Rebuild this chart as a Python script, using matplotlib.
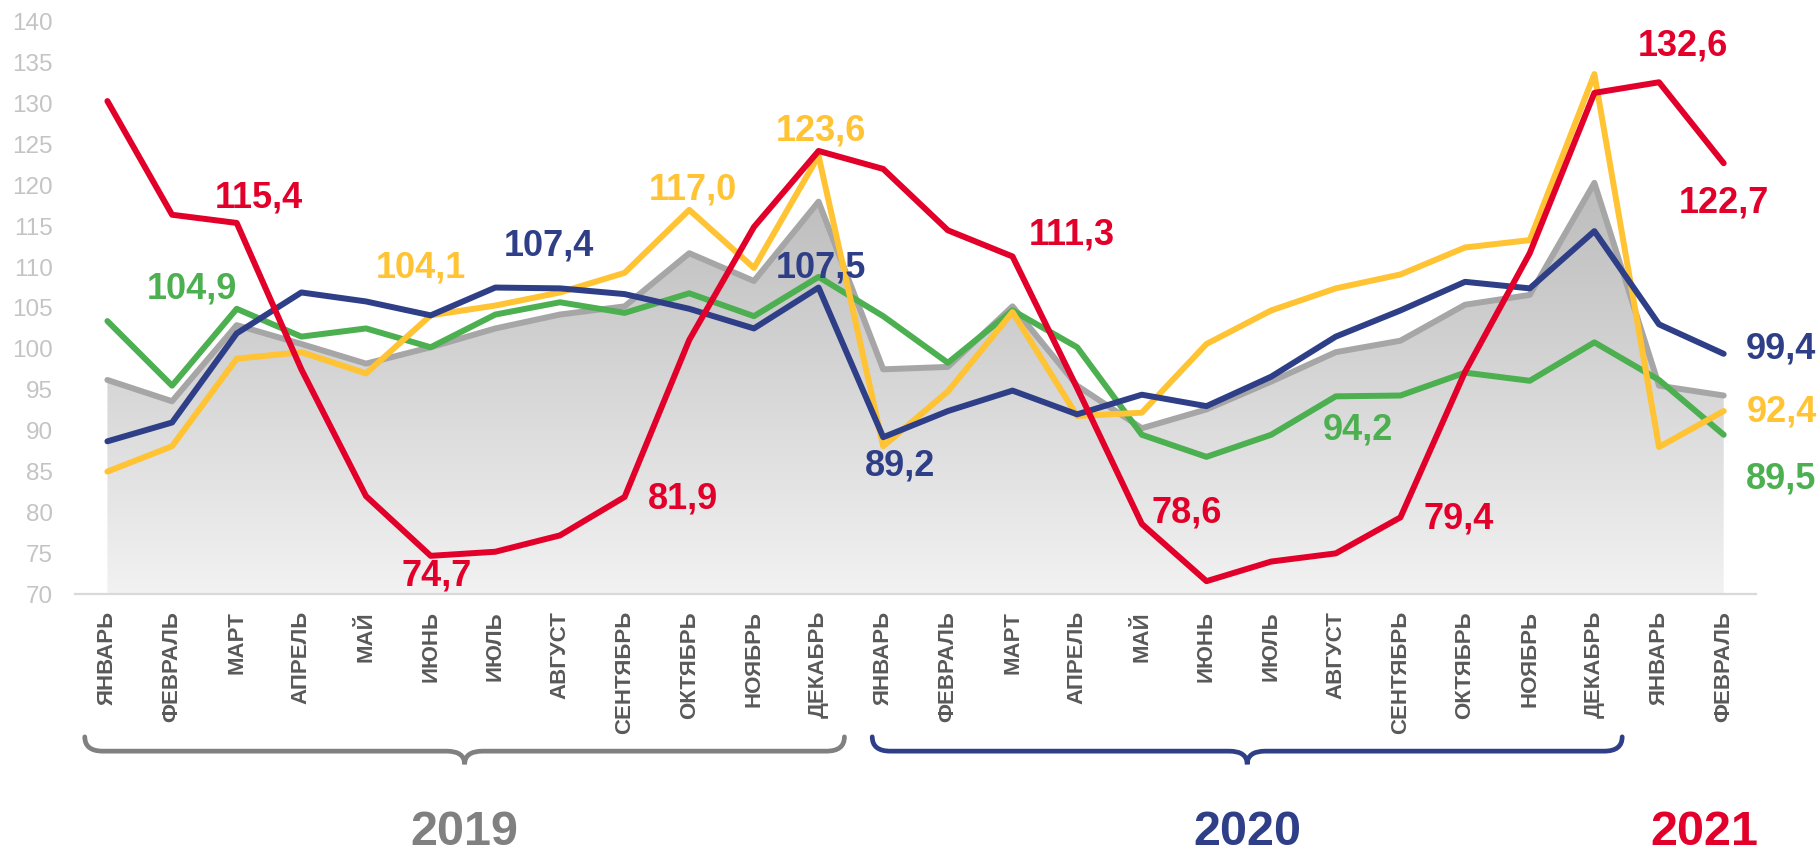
import numpy as np
import matplotlib
matplotlib.use("Agg")
import matplotlib.pyplot as plt
from matplotlib.colors import LinearSegmentedColormap
from matplotlib.path import Path
from matplotlib.patches import PathPatch
from matplotlib.transforms import blended_transform_factory

plt.rcParams["font.family"] = ["Liberation Sans", "DejaVu Sans"]

months = ["ЯНВАРЬ", "ФЕВРАЛЬ", "МАРТ", "АПРЕЛЬ", "МАЙ", "ИЮНЬ", "ИЮЛЬ",
          "АВГУСТ", "СЕНТЯБРЬ", "ОКТЯБРЬ", "НОЯБРЬ", "ДЕКАБРЬ"]
tick_labels = months + months + months[:2]

red = [130.3, 116.4, 115.4, 97.5, 82.0, 74.7, 75.2, 77.2, 81.9, 101.1, 114.9, 124.2,
       122.0, 114.5, 111.3, 95.2, 78.6, 71.6, 74.0, 75.0, 79.4, 97.2, 111.7, 131.3,
       132.6, 122.7]
yellow = [85.0, 88.1, 98.8, 99.6, 97.0, 104.1, 105.3, 106.9, 109.3, 117.0, 109.9, 123.6,
          88.1, 94.8, 104.5, 91.8, 92.2, 100.6, 104.7, 107.4, 109.1, 112.4, 113.3, 133.6,
          88.0, 92.4]
green = [103.4, 95.5, 104.9, 101.5, 102.5, 100.2, 104.2, 105.7, 104.4, 106.8, 104.0, 108.8,
         104.0, 98.3, 104.7, 100.2, 89.5, 86.8, 89.5, 94.2, 94.3, 97.1, 96.1, 100.8,
         96.2, 89.5]
navy = [88.7, 91.0, 101.9, 106.9, 105.8, 104.1, 107.5, 107.4, 106.7, 104.9, 102.5, 107.5,
        89.2, 92.4, 94.9, 92.0, 94.4, 93.0, 96.6, 101.5, 104.7, 108.2, 107.4, 114.4,
        103.0, 99.4]
gray = [96.2, 93.6, 102.9, 100.6, 98.2, 100.2, 102.5, 104.2, 105.2, 111.7, 108.3, 118.0,
        97.5, 97.8, 105.2, 95.5, 90.3, 92.6, 96.0, 99.6, 101.0, 105.4, 106.6, 120.3,
        95.5, 94.3]

C_RED = "#e2002b"
C_YEL = "#ffc333"
C_GRN = "#4caf50"
C_NAVY = "#2f3f87"
C_GRAY = "#a6a6a6"

x = np.arange(len(red))

fig = plt.figure(figsize=(18.18, 8.52), dpi=100)
ax = fig.add_axes([0.0413, 0.3025, 0.9246, 0.672])

# gray area with vertical gradient
poly = ax.fill_between(x, gray, 70, facecolor="none", edgecolor="none")
cmap = LinearSegmentedColormap.from_list("g", ["#f2f2f2", "#bcbcbc"])
grad = np.linspace(0, 1, 256).reshape(-1, 1)
im = ax.imshow(grad, extent=[x[0], x[-1], 70, max(gray)], origin="lower",
               aspect="auto", cmap=cmap, zorder=1)
im.set_clip_path(poly.get_paths()[0], transform=ax.transData)

lw = 4.3
ax.plot(x, gray, color=C_GRAY, lw=lw, zorder=2, solid_capstyle="round")
ax.plot(x, green, color=C_GRN, lw=lw, zorder=3, solid_capstyle="round")
ax.plot(x, yellow, color=C_YEL, lw=lw, zorder=4, solid_capstyle="round")
ax.plot(x, navy, color=C_NAVY, lw=lw, zorder=5, solid_capstyle="round")
ax.plot(x, red, color=C_RED, lw=lw, zorder=6, solid_capstyle="round")

ax.set_xlim(-0.5, 25.5)
ax.set_ylim(70, 140)
ax.set_yticks(range(70, 141, 5))
ax.tick_params(axis="y", length=0, labelsize=17.5, labelcolor="#c4c4c4", pad=16)
ax.set_xticks(x)
ax.set_xticklabels(tick_labels, rotation=90, fontsize=16, fontweight="bold",
                   color="#595959", va="top")
ax.tick_params(axis="x", length=0, pad=12)
for s in ["top", "right", "left"]:
    ax.spines[s].set_visible(False)
ax.spines["bottom"].set_color("#d9d9d9")
ax.spines["bottom"].set_linewidth(1.6)

# value labels: (series, color, index, dx px, dy px)
labels = [
    (red, C_RED, 2, 22, 25), (green, C_GRN, 2, -45, 20), (yellow, C_YEL, 5, -10, 47),
    (navy, C_NAVY, 7, -11, 42), (red, C_RED, 5, 6, -20), (yellow, C_YEL, 9, 4, 20),
    (yellow, C_YEL, 11, 2, 25), (navy, C_NAVY, 11, 2, 20), (red, C_RED, 8, 58, -2),
    (navy, C_NAVY, 12, 17, -29), (red, C_RED, 14, 59, 21), (red, C_RED, 16, 45, 11),
    (green, C_GRN, 19, 22, -34), (red, C_RED, 20, 58, -2), (red, C_RED, 24, 24, 36),
    (red, C_RED, 25, 0, -40), (navy, C_NAVY, 25, 57, 5), (yellow, C_YEL, 25, 58, -1),
    (green, C_GRN, 25, 57, -44),
]
for ser, col, i, dx, dy in labels:
    ax.annotate(f"{ser[i]:.1f}".replace(".", ","), (x[i], ser[i]),
                xytext=(dx * 0.72, dy * 0.72), textcoords="offset points",
                ha="center", va="center", fontsize=26, fontweight="bold",
                color=col, zorder=10, annotation_clip=False)

# year brackets
tr = blended_transform_factory(ax.transData, ax.transAxes)


def brace(x0, x1, color):
    ytop, yh, ytip = -0.249, -0.274, -0.297
    xc = (x0 + x1) / 2
    r = 0.28
    verts = [(x0, ytop), (x0, yh), (x0 + r, yh), (xc - r, yh), (xc, yh), (xc, ytip),
             (xc, yh), (xc + r, yh), (x1 - r, yh), (x1, yh), (x1, ytop)]
    codes = [Path.MOVETO, Path.CURVE3, Path.CURVE3, Path.LINETO, Path.CURVE3, Path.CURVE3,
             Path.CURVE3, Path.CURVE3, Path.LINETO, Path.CURVE3, Path.CURVE3]
    p = PathPatch(Path(verts, codes), transform=tr, fill=False, edgecolor=color,
                  lw=3.4, clip_on=False, capstyle="round")
    ax.add_patch(p)


brace(-0.35, 11.4, "#808080")
brace(11.83, 23.43, C_NAVY)

years = ["2019", "2020", "2021"]
year_x = [5.52, 17.63, 24.7]
year_c = ["#808080", C_NAVY, C_RED]
for yr, xx, c in zip(years, year_x, year_c):
    ax.text(xx, -0.416, yr, transform=tr, ha="center", va="center", fontsize=35,
            fontweight="bold", color=c, clip_on=False)

fig.savefig("out.png", dpi=100)
